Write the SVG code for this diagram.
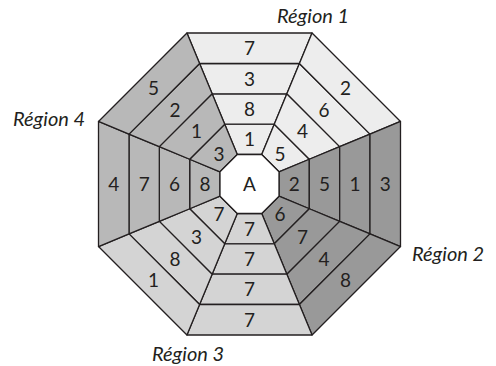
<svg xmlns="http://www.w3.org/2000/svg" width="496" height="366" viewBox="0 0 496 366">
  <style>
    .cell { stroke: #231f20; stroke-width: 1.3; stroke-linejoin: round; }
    .r1 { fill: #ededed; }
    .r2 { fill: #999999; }
    .r3 { fill: #d4d4d4; }
    .r4 { fill: #b8b8b8; }
    .hub { fill: #ffffff; }
    .num { font-family: Lato, "Open Sans", sans-serif; font-size: 19px; fill: #231f20; text-anchor: middle; }
    .lbl { font-family: Lato, "Open Sans", sans-serif; font-size: 20px; font-style: italic; fill: #231f20; }
  </style>
  <rect width="496" height="366" fill="#ffffff"/>

  <!-- top sector (Région 1) -->
  <g id="sector-top">
    <polygon class="cell r1" points="237.28,154.5 261.72,154.5 274.27,124.2 224.73,124.2"/>
    <polygon class="cell r1" points="224.73,124.2 274.27,124.2 286.86,93.8 212.14,93.8"/>
    <polygon class="cell r1" points="212.14,93.8 286.86,93.8 299.41,63.5 199.59,63.5"/>
    <polygon class="cell r1" points="199.59,63.5 299.41,63.5 312.05,33 186.95,33"/>
    <text class="num" x="249.5" y="146.4">1</text>
    <text class="num" x="249.5" y="116">8</text>
    <text class="num" x="249.5" y="85.7">3</text>
    <text class="num" x="249.5" y="55.3">7</text>
  </g>

  <!-- top-right sector (Région 1) -->
  <g id="sector-top-right">
    <polygon class="cell r1" points="261.72,154.5 279,171.78 309.3,159.23 274.27,124.2"/>
    <polygon class="cell r1" points="274.27,124.2 309.3,159.23 339.7,146.64 286.86,93.8"/>
    <polygon class="cell r1" points="286.86,93.8 339.7,146.64 370,134.09 299.41,63.5"/>
    <polygon class="cell r1" points="299.41,63.5 370,134.09 400.5,121.45 312.05,33"/>
    <text class="num" x="279.9" y="160.6">5</text>
    <text class="num" x="302.5" y="138">4</text>
    <text class="num" x="324" y="116.5">6</text>
    <text class="num" x="345.5" y="95">2</text>
  </g>

  <!-- right sector (Région 2) -->
  <g id="sector-right">
    <polygon class="cell r2" points="279,171.78 279,196.22 309.3,208.77 309.3,159.23"/>
    <polygon class="cell r2" points="309.3,159.23 309.3,208.77 339.7,221.36 339.7,146.64"/>
    <polygon class="cell r2" points="339.7,146.64 339.7,221.36 370,233.91 370,134.09"/>
    <polygon class="cell r2" points="370,134.09 370,233.91 400.5,246.55 400.5,121.45"/>
    <text class="num" x="294.2" y="191">2</text>
    <text class="num" x="324.5" y="191">5</text>
    <text class="num" x="354.9" y="191">1</text>
    <text class="num" x="385.3" y="191">3</text>
  </g>

  <!-- bottom-right sector (Région 2) -->
  <g id="sector-bottom-right">
    <polygon class="cell r2" points="279,196.22 261.72,213.5 274.27,243.8 309.3,208.77"/>
    <polygon class="cell r2" points="309.3,208.77 274.27,243.8 286.86,274.2 339.7,221.36"/>
    <polygon class="cell r2" points="339.7,221.36 286.86,274.2 299.41,304.5 370,233.91"/>
    <polygon class="cell r2" points="370,233.91 299.41,304.5 312.05,335 400.5,246.55"/>
    <text class="num" x="279.9" y="221.4">6</text>
    <text class="num" x="302.5" y="244">7</text>
    <text class="num" x="324" y="265.5">4</text>
    <text class="num" x="345.5" y="287">8</text>
  </g>

  <!-- bottom sector (Région 3) -->
  <g id="sector-bottom">
    <polygon class="cell r3" points="261.72,213.5 237.28,213.5 224.73,243.8 274.27,243.8"/>
    <polygon class="cell r3" points="274.27,243.8 224.73,243.8 212.14,274.2 286.86,274.2"/>
    <polygon class="cell r3" points="286.86,274.2 212.14,274.2 199.59,304.5 299.41,304.5"/>
    <polygon class="cell r3" points="299.41,304.5 199.59,304.5 186.95,335 312.05,335"/>
    <text class="num" x="249.5" y="235.7">7</text>
    <text class="num" x="249.5" y="266">7</text>
    <text class="num" x="249.5" y="296.4">7</text>
    <text class="num" x="249.5" y="326.8">7</text>
  </g>

  <!-- bottom-left sector (Région 3) -->
  <g id="sector-bottom-left">
    <polygon class="cell r3" points="237.28,213.5 220,196.22 189.7,208.77 224.73,243.8"/>
    <polygon class="cell r3" points="224.73,243.8 189.7,208.77 159.3,221.36 212.14,274.2"/>
    <polygon class="cell r3" points="212.14,274.2 159.3,221.36 129,233.91 199.59,304.5"/>
    <polygon class="cell r3" points="199.59,304.5 129,233.91 98.5,246.55 186.95,335"/>
    <text class="num" x="219.1" y="221.4">7</text>
    <text class="num" x="196.5" y="244">3</text>
    <text class="num" x="175" y="265.5">8</text>
    <text class="num" x="153.5" y="287">1</text>
  </g>

  <!-- left sector (Région 4) -->
  <g id="sector-left">
    <polygon class="cell r4" points="220,196.22 220,171.78 189.7,159.23 189.7,208.77"/>
    <polygon class="cell r4" points="189.7,208.77 189.7,159.23 159.3,146.64 159.3,221.36"/>
    <polygon class="cell r4" points="159.3,221.36 159.3,146.64 129,134.09 129,233.91"/>
    <polygon class="cell r4" points="129,233.91 129,134.09 98.5,121.45 98.5,246.55"/>
    <text class="num" x="204.9" y="191">8</text>
    <text class="num" x="174.5" y="191">6</text>
    <text class="num" x="144.2" y="191">7</text>
    <text class="num" x="113.8" y="191">4</text>
  </g>

  <!-- top-left sector (Région 4) -->
  <g id="sector-top-left">
    <polygon class="cell r4" points="220,171.78 237.28,154.5 224.73,124.2 189.7,159.23"/>
    <polygon class="cell r4" points="189.7,159.23 224.73,124.2 212.14,93.8 159.3,146.64"/>
    <polygon class="cell r4" points="159.3,146.64 212.14,93.8 199.59,63.5 129,134.09"/>
    <polygon class="cell r4" points="129,134.09 199.59,63.5 186.95,33 98.5,121.45"/>
    <text class="num" x="219.1" y="160.6">3</text>
    <text class="num" x="196.5" y="138">1</text>
    <text class="num" x="175" y="116.5">2</text>
    <text class="num" x="153.5" y="95">5</text>
  </g>

  <!-- central hub -->
  <g id="hub">
    <polygon class="cell hub" points="237.28,154.5 261.72,154.5 279,171.78 279,196.22 261.72,213.5 237.28,213.5 220,196.22 220,171.78"/>
    <text class="num" x="249.5" y="191">A</text>
  </g>

  <!-- region captions -->
  <g id="captions">
    <text class="lbl" x="277" y="23">Région 1</text>
    <text class="lbl" x="412" y="261">Région 2</text>
    <text class="lbl" x="152" y="361">Région 3</text>
    <text class="lbl" x="13" y="126">Région 4</text>
  </g>
</svg>
